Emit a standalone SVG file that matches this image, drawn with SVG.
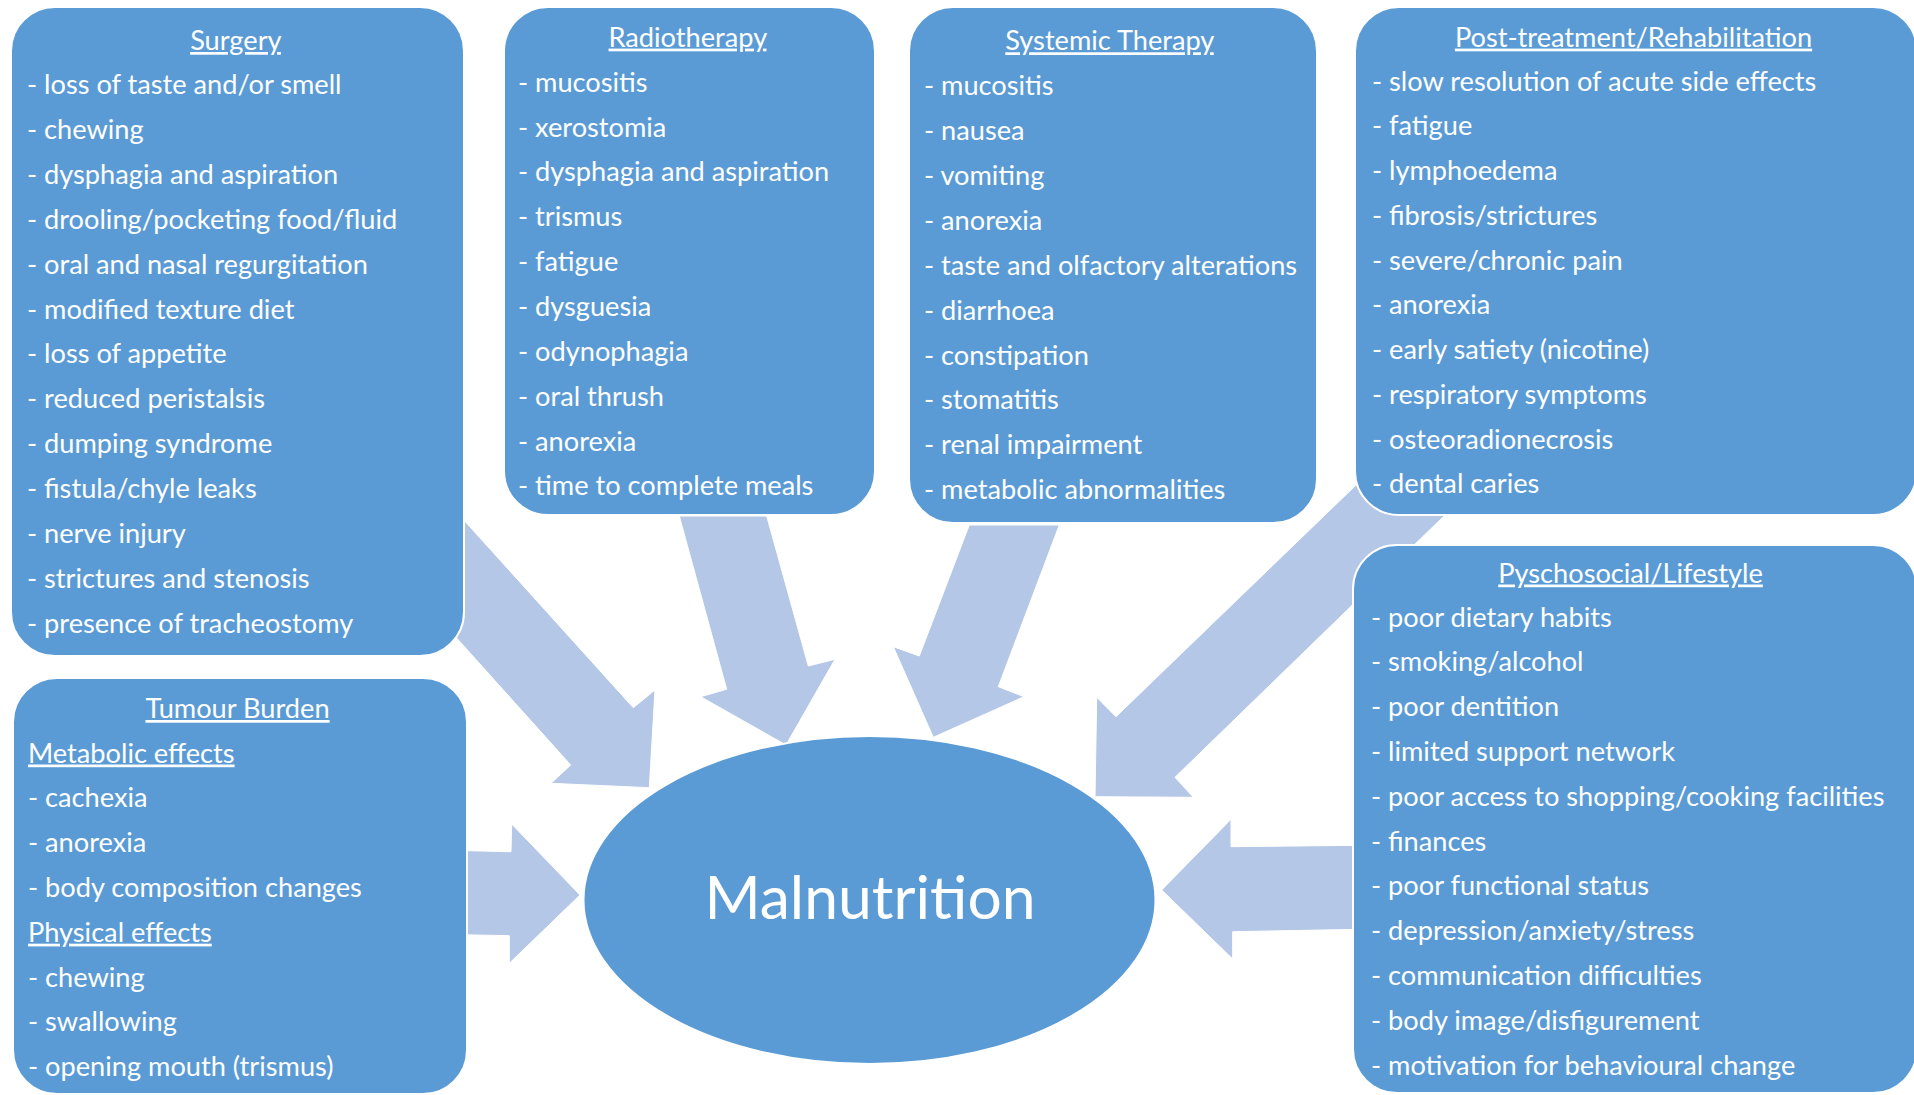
<svg xmlns="http://www.w3.org/2000/svg" width="1914" height="1095" viewBox="0 0 1914 1095">
  <style>
    .box { fill: #5B9BD5; stroke: #FFFFFF; stroke-width: 2; }
    .arrow { fill: #B4C7E7; stroke: #FFFFFF; stroke-width: 1; stroke-linejoin: miter; }
    .txt { font-family: Lato, "Open Sans", sans-serif; font-size: 27.2px; fill: #FFFFFF; }
    .ttl { text-anchor: middle; text-decoration: underline; }
    .ul { text-decoration: underline; }
    .centre { font-family: Lato, "Open Sans", sans-serif; font-size: 60.6px; fill: #FFFFFF; text-anchor: middle; }
  </style>

  <rect width="1914" height="1095" fill="#FFFFFF"/>

  <!-- block arrows feeding into the central node (drawn beneath the boxes) -->
  <g id="connectors">
    <polygon class="arrow" id="arrow-surgery" points="413.7,464.6 633.3,707.7 655,690 649.3,787.7 551,783.3 570.7,765 358.4,528.7"/>
    <polygon class="arrow" id="arrow-radiotherapy" points="679.3,516 766.7,516 808.3,666 835,659.3 786,745 700.7,696.7 726.7,689.3"/>
    <polygon class="arrow" id="arrow-systemic" points="969.3,525 1059.3,525 998.3,686.7 1024,696.7 933.3,737.3 893.3,646.7 919.3,656"/>
    <polygon class="arrow" id="arrow-posttreatment" points="1377.6,464.2 1471.4,489.4 1175,777.3 1193.3,797.3 1095,796.7 1096.7,697.3 1116,716.7"/>
    <polygon class="arrow" id="arrow-tumour" points="460,850.5 511,851.7 511.7,824 580,895 509.3,963.3 509.3,935.7 460,934.7"/>
    <polygon class="arrow" id="arrow-psychosocial" points="1360,845.3 1231,846.7 1231,819.3 1161.7,890 1232.7,959 1232.7,931.7 1360,929.3"/>
  </g>

  <g id="node-surgery">
    <rect class="box" x="11" y="7" width="453" height="649" rx="44" ry="44"/>
    <text class="txt">
      <tspan class="ttl" x="239" y="50">Surgery</tspan>
      <tspan x="27" y="94.3">- loss of taste and/or smell</tspan>
      <tspan x="27" y="139.2">- chewing</tspan>
      <tspan x="27" y="184">- dysphagia and aspiration</tspan>
      <tspan x="27" y="228.9">- drooling/pocketing food/fluid</tspan>
      <tspan x="27" y="273.7">- oral and nasal regurgitation</tspan>
      <tspan x="27" y="318.6">- modified texture diet</tspan>
      <tspan x="27" y="363.4">- loss of appetite</tspan>
      <tspan x="27" y="408.3">- reduced peristalsis</tspan>
      <tspan x="27" y="453.1">- dumping syndrome</tspan>
      <tspan x="27" y="498">- fistula/chyle leaks</tspan>
      <tspan x="27" y="542.8">- nerve injury</tspan>
      <tspan x="27" y="587.7">- strictures and stenosis</tspan>
      <tspan x="27" y="632.5">- presence of tracheostomy</tspan>
    </text>
  </g>

  <g id="node-radiotherapy">
    <rect class="box" x="504" y="7" width="371" height="508" rx="44" ry="44"/>
    <text class="txt">
      <tspan class="ttl" x="691" y="46.6">Radiotherapy</tspan>
      <tspan x="518" y="91.7">- mucositis</tspan>
      <tspan x="518" y="136.5">- xerostomia</tspan>
      <tspan x="518" y="181.4">- dysphagia and aspiration</tspan>
      <tspan x="518" y="226.2">- trismus</tspan>
      <tspan x="518" y="271.1">- fatigue</tspan>
      <tspan x="518" y="315.9">- dysguesia</tspan>
      <tspan x="518" y="360.8">- odynophagia</tspan>
      <tspan x="518" y="405.6">- oral thrush</tspan>
      <tspan x="518" y="450.5">- anorexia</tspan>
      <tspan x="518" y="495.3">- time to complete meals</tspan>
    </text>
  </g>

  <g id="node-systemic">
    <rect class="box" x="909" y="7" width="408" height="516" rx="44" ry="44"/>
    <text class="txt">
      <tspan class="ttl" x="1113" y="50.3">Systemic Therapy</tspan>
      <tspan x="924" y="95.4">- mucositis</tspan>
      <tspan x="924" y="140.3">- nausea</tspan>
      <tspan x="924" y="185.1">- vomiting</tspan>
      <tspan x="924" y="230">- anorexia</tspan>
      <tspan x="924" y="274.8">- taste and olfactory alterations</tspan>
      <tspan x="924" y="319.7">- diarrhoea</tspan>
      <tspan x="924" y="364.5">- constipation</tspan>
      <tspan x="924" y="409.4">- stomatitis</tspan>
      <tspan x="924" y="454.2">- renal impairment</tspan>
      <tspan x="924" y="499.1">- metabolic abnormalities</tspan>
    </text>
  </g>

  <g id="node-posttreatment">
    <rect class="box" x="1355" y="7" width="562" height="508" rx="44" ry="44"/>
    <text class="txt">
      <tspan class="ttl" x="1637" y="46.6">Post-treatment/Rehabilitation</tspan>
      <tspan x="1372" y="90.6">- slow resolution of acute side effects</tspan>
      <tspan x="1372" y="135.4">- fatigue</tspan>
      <tspan x="1372" y="180.1">- lymphoedema</tspan>
      <tspan x="1372" y="224.9">- fibrosis/strictures</tspan>
      <tspan x="1372" y="269.6">- severe/chronic pain</tspan>
      <tspan x="1372" y="314.4">- anorexia</tspan>
      <tspan x="1372" y="359.2">- early satiety (nicotine)</tspan>
      <tspan x="1372" y="403.9">- respiratory symptoms</tspan>
      <tspan x="1372" y="448.7">- osteoradionecrosis</tspan>
      <tspan x="1372" y="493.4">- dental caries</tspan>
    </text>
  </g>

  <g id="node-psychosocial">
    <rect class="box" x="1353" y="545" width="564" height="548" rx="44" ry="44"/>
    <text class="txt">
      <tspan class="ttl" x="1634" y="582.5">Pyschosocial/Lifestyle</tspan>
      <tspan x="1371" y="626.5">- poor dietary habits</tspan>
      <tspan x="1371" y="671.3">- smoking/alcohol</tspan>
      <tspan x="1371" y="716.1">- poor dentition</tspan>
      <tspan x="1371" y="760.9">- limited support network</tspan>
      <tspan x="1371" y="805.7">- poor access to shopping/cooking facilities</tspan>
      <tspan x="1371" y="850.5">- finances</tspan>
      <tspan x="1371" y="895.3">- poor functional status</tspan>
      <tspan x="1371" y="940.1">- depression/anxiety/stress</tspan>
      <tspan x="1371" y="984.9">- communication difficulties</tspan>
      <tspan x="1371" y="1029.7">- body image/disfigurement</tspan>
      <tspan x="1371" y="1074.5">- motivation for behavioural change</tspan>
    </text>
  </g>

  <g id="node-tumour">
    <rect class="box" x="13" y="678" width="454" height="416" rx="44" ry="44"/>
    <text class="txt">
      <tspan class="ttl" x="241" y="718">Tumour Burden</tspan>
      <tspan class="ul" x="28" y="762.5">Metabolic effects</tspan>
      <tspan x="28" y="807.3">- cachexia</tspan>
      <tspan x="28" y="852.1">- anorexia</tspan>
      <tspan x="28" y="896.9">- body composition changes</tspan>
      <tspan class="ul" x="28" y="941.7">Physical effects</tspan>
      <tspan x="28" y="986.5">- chewing</tspan>
      <tspan x="28" y="1031.3">- swallowing</tspan>
      <tspan x="28" y="1076.1">- opening mouth (trismus)</tspan>
    </text>
  </g>

  <g id="node-malnutrition">
    <ellipse class="box" cx="869.5" cy="900" rx="286" ry="164"/>
    <text class="centre" x="870" y="919">Malnutrition</text>
  </g>
</svg>
